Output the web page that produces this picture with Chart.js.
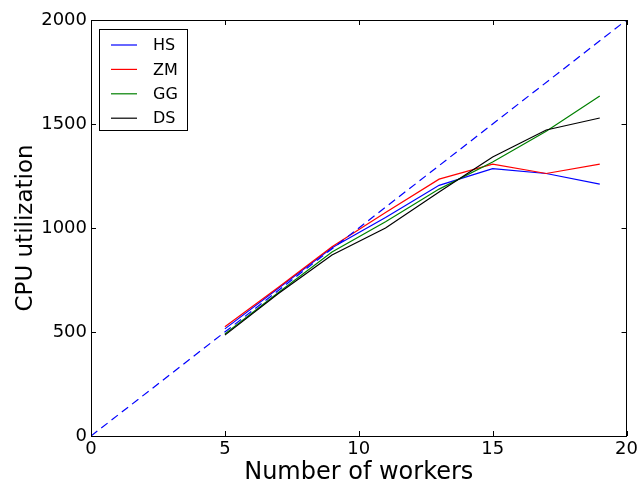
<!DOCTYPE html>
<html>
<head>
<meta charset="utf-8">
<script src="https://cdn.jsdelivr.net/npm/chart.js@4"></script>
<style>
  html, body { margin: 0; padding: 0; background: #fff; }
  #wrap { width: 641px; height: 487px; }
</style>
</head>
<body>
<div id="wrap"><canvas id="myCanvas" width="641" height="487"></canvas></div>
<script>
// workers on the x axis
let workers = [5, 7, 9, 11, 13, 15, 17, 19];
let hsData = [515, 710, 905, 1050, 1205, 1285, 1262, 1211];
let zmData = [525, 715, 910, 1075, 1235, 1307, 1262, 1307];
let ggData = [490, 690, 885, 1030, 1187, 1317, 1465, 1635];
let dsData = [485, 685, 870, 1000, 1173, 1341, 1471, 1529];
// ideal line
let idealX = [0, 20];
let idealY = [0, 2000];
let xTicks = [0, 5, 10, 15, 20];
let yTicks = [0, 500, 1000, 1500, 2000];

let seriesNames = ["HS", "ZM", "GG", "DS"];
let seriesColors = ["#0000ff", "#ff0000", "#008000", "#000000"];

function toPoints(xs, ys) {
  return xs.map((x, i) => ({ x: x, y: ys[i] }));
}

let font = "'DejaVu Sans', sans-serif";

// ticks pointing inwards on all four sides + frame
let frameTicks = {
  id: "frameTicks",
  afterDraw(chart) {
    let ctx = chart.ctx;
    let a = chart.chartArea;
    let xs = chart.scales.x, ys = chart.scales.y;
    ctx.save();
    ctx.strokeStyle = "#000";
    ctx.lineWidth = 1;
    ctx.beginPath();
    xTicks.forEach((v) => {
      let px = Math.round(xs.getPixelForValue(v)) + 0.5;
      ctx.moveTo(px, a.bottom); ctx.lineTo(px, a.bottom - 5);
      ctx.moveTo(px, a.top); ctx.lineTo(px, a.top + 5);
    });
    yTicks.forEach((v) => {
      let py = Math.round(ys.getPixelForValue(v)) + 0.5;
      ctx.moveTo(a.left, py); ctx.lineTo(a.left + 5, py);
      ctx.moveTo(a.right, py); ctx.lineTo(a.right - 5, py);
    });
    ctx.stroke();
    ctx.strokeRect(Math.round(a.left) + 0.5, Math.round(a.top) + 0.5,
      Math.round(a.right - a.left) - 1, Math.round(a.bottom - a.top));
    ctx.restore();
  },
};

// legend box in the upper left corner
let boxLegend = {
  id: "boxLegend",
  afterDraw(chart) {
    let ctx = chart.ctx;
    ctx.save();
    ctx.fillStyle = "#fff";
    ctx.fillRect(99.5, 29.5, 88, 101);
    ctx.strokeStyle = "#000";
    ctx.lineWidth = 1;
    ctx.strokeRect(99.5, 29.5, 88, 101);
    ctx.font = "16px " + font;
    ctx.textBaseline = "middle";
    ctx.textAlign = "left";
    seriesNames.forEach((name, i) => {
      let y = 45 + i * 24.4;
      ctx.strokeStyle = seriesColors[i];
      ctx.lineWidth = 1.2;
      ctx.beginPath();
      ctx.moveTo(111, y);
      ctx.lineTo(137, y);
      ctx.stroke();
      ctx.fillStyle = "#000";
      ctx.fillText(name, 153, y + 1);
    });
    ctx.restore();
  },
};

let allY = [hsData, zmData, ggData, dsData];
let datasets = seriesNames.map((name, i) => ({
  label: name,
  data: toPoints(workers, allY[i]),
  borderColor: seriesColors[i],
  borderWidth: 1.2,
  pointRadius: 0,
  tension: 0,
  fill: false,
  order: 4 - i,
}));
datasets.push({
  label: "ideal",
  data: toPoints(idealX, idealY),
  borderColor: "#0000ff",
  borderWidth: 1.2,
  borderDash: [8, 5],
  pointRadius: 0,
  fill: false,
  order: 0,
});

let chart = new Chart(document.getElementById("myCanvas").getContext("2d"), {
  type: "line",
  data: { datasets: datasets },
  options: {
    responsive: false,
    animation: false,
    devicePixelRatio: 1,
    layout: { padding: { top: 20, right: 13, left: 0, bottom: 0 } },
    plugins: {
      legend: { display: false },
      tooltip: { enabled: false },
    },
    scales: {
      x: {
        type: "linear",
        min: 0,
        max: 20,
        afterFit: (s) => { s.height = 51; },
        afterBuildTicks: (s) => { s.ticks = xTicks.map((v) => ({ value: v })); },
        grid: { display: false, drawTicks: false },
        border: { display: false },
        ticks: { color: "#000", font: { family: font, size: 18 }, padding: 3, callback: (v) => String(v) },
        title: {
          display: true,
          text: "Number of workers",
          color: "#000",
          font: { family: font, size: 24 },
          padding: { top: 0, bottom: 0 },
        },
      },
      y: {
        min: 0,
        max: 2000,
        afterFit: (s) => { s.width = 91; },
        afterBuildTicks: (s) => { s.ticks = yTicks.map((v) => ({ value: v })); },
        grid: { display: false, drawTicks: false },
        border: { display: false },
        ticks: { color: "#000", font: { family: font, size: 18 }, padding: 4, callback: (v) => String(v) },
        title: {
          display: true,
          text: "CPU utilization",
          color: "#000",
          font: { family: font, size: 23 },
          padding: { top: 12, bottom: 0 },
        },
      },
    },
  },
  plugins: [frameTicks, boxLegend],
});
</script>
</body>
</html>
